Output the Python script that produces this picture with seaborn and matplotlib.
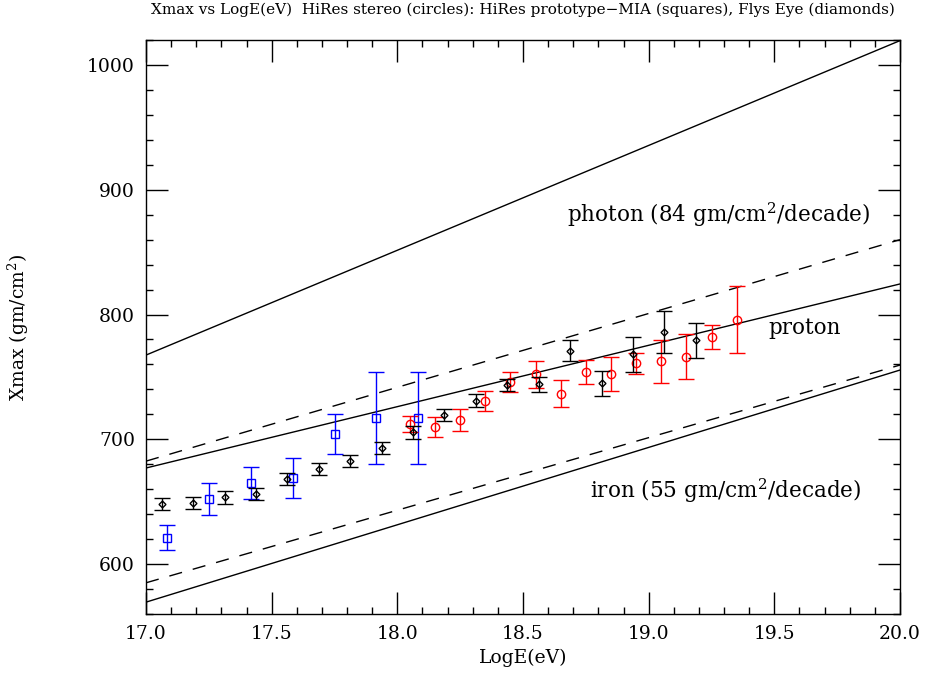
import numpy as np
import pandas as pd
import matplotlib.pyplot as plt
import seaborn as sns
from matplotlib.ticker import MultipleLocator

# -------------------------------------------------
# DATOS
# -------------------------------------------------

# Fly's Eye (diamantes)
fe_x = [17.0625, 17.1875, 17.3125, 17.4375, 17.5625, 17.6875, 17.8125, 17.9375, 18.0625,
        18.1875, 18.3125, 18.4375, 18.5625, 18.6875, 18.8125, 18.9375, 19.0625, 19.1875]
fe_y = [648, 649, 653.5, 656, 668, 676, 682.5, 693, 705.5,
        719.5, 731, 743.5, 744, 771, 745, 768, 786, 779.5]
fe_err = [5, 5, 5, 5, 5, 5, 5, 5, 5,
          5, 5, 5, 6, 8.5, 10, 14, 17, 14]

# HiRes prototype-MIA (cuadrados)
mia_x = [17.083, 17.25, 17.417, 17.583, 17.75, 17.917, 18.083]
mia_y = [621, 652, 665, 669, 704.5, 717, 717]
mia_err = [10, 13, 13, 16, 16, 37, 37]

# HiRes stereo (circulos)
st_x = [18.05, 18.15, 18.25, 18.35, 18.45, 18.55, 18.65,
        18.75, 18.85, 18.95, 19.05, 19.15, 19.25, 19.35]
st_y = [712, 710, 715.5, 731, 746, 752, 736.5,
        754, 752.5, 761, 762.5, 766, 782, 796]
st_err = [6.5, 8, 8.5, 8, 8, 10.5, 11,
          9.5, 13.5, 8.5, 17, 18, 10, 26.5]

# Predicciones (rectas)
line_x = [17.0, 20.0]
photon = [767.5, 1019.5]
proton_dash = [682.5, 860]
proton = [677, 824.5]
iron_dash = [585, 759.5]
iron = [569.5, 755.5]

# -------------------------------------------------
# ESTILO
# -------------------------------------------------

sns.set_style("white")
plt.rcParams['font.family'] = ['DejaVu Serif']
plt.rcParams['mathtext.fontset'] = 'dejavuserif'
plt.rcParams['xtick.direction'] = 'in'
plt.rcParams['ytick.direction'] = 'in'
plt.rcParams['text.color'] = 'black'
plt.rcParams['axes.labelcolor'] = 'black'
plt.rcParams['xtick.color'] = 'black'
plt.rcParams['ytick.color'] = 'black'

fig = plt.figure(figsize=(9.26, 6.78), dpi=100)
ax = fig.add_axes([146 / 926, 1 - 614 / 678, (900 - 146) / 926, (614 - 40) / 678])

# -------------------------------------------------
# RECTAS
# -------------------------------------------------

lines = pd.DataFrame({
    'x': line_x * 5,
    'y': photon + proton_dash + proton + iron_dash + iron,
    'modelo': ['photon'] * 2 + ['proton_d'] * 2 + ['proton'] * 2 + ['iron_d'] * 2 + ['iron'] * 2,
})
sns.lineplot(
    data=lines, x='x', y='y', hue='modelo', style='modelo',
    palette={'photon': 'black', 'proton_d': 'black', 'proton': 'black',
             'iron_d': 'black', 'iron': 'black'},
    dashes={'photon': '', 'proton_d': (9.5, 8), 'proton': '',
            'iron_d': (9.5, 8), 'iron': ''},
    linewidth=1.0, legend=False, ax=ax,
)

# -------------------------------------------------
# PUNTOS CON BARRAS DE ERROR
# -------------------------------------------------

ax.errorbar(mia_x, mia_y, yerr=mia_err, fmt='s', ms=6, mfc='none', mec='blue', mew=1.0,
            ecolor='blue', elinewidth=1.0, capsize=5.5, capthick=1.0, zorder=3)
ax.errorbar(fe_x, fe_y, yerr=fe_err, fmt='D', ms=3.5, mfc='none', mec='black', mew=1.0,
            ecolor='black', elinewidth=1.0, capsize=5.5, capthick=1.0, zorder=4)
ax.errorbar(st_x, st_y, yerr=st_err, fmt='o', ms=6, mfc='none', mec='red', mew=1.0,
            ecolor='red', elinewidth=1.0, capsize=5.5, capthick=1.0, zorder=3)

# -------------------------------------------------
# TEXTOS
# -------------------------------------------------

ax.text(18.675, 880, 'photon (84 gm/cm$^2$/decade)', fontsize=15.5, va='center', ha='left')
ax.text(19.475, 789, 'proton', fontsize=15.5, va='center', ha='left')
ax.text(18.767, 658.5, 'iron (55 gm/cm$^2$/decade)', fontsize=15.5, va='center', ha='left')

ax.set_xlim(17.0, 20.0)
ax.set_ylim(560, 1020)
ax.xaxis.set_major_locator(MultipleLocator(0.5))
ax.xaxis.set_minor_locator(MultipleLocator(0.1))
ax.yaxis.set_major_locator(MultipleLocator(100))
ax.yaxis.set_minor_locator(MultipleLocator(20))
ax.xaxis.set_major_formatter(plt.FormatStrFormatter('%.1f'))
ax.tick_params(which='both', top=True, right=True, bottom=True, left=True,
               labelsize=13.5, width=1.0, color='black', labelcolor='black')
ax.tick_params(which='major', length=16, pad=8)
ax.tick_params(which='minor', length=5)
for s in ax.spines.values():
    s.set_color('black')
    s.set_linewidth(1.0)

ax.set_xlabel('LogE(eV)', fontsize=13.5, labelpad=4)
ax.set_ylabel('Xmax (gm/cm$^2$)', fontsize=13.5, labelpad=40)
fig.text(523 / 926, 1 - 10 / 678,
         'Xmax vs LogE(eV)  HiRes stereo (circles): HiRes prototype\u2212MIA (squares), Flys Eye (diamonds)',
         fontsize=11, ha='center', va='center')

fig.savefig('out.png', dpi=100)
